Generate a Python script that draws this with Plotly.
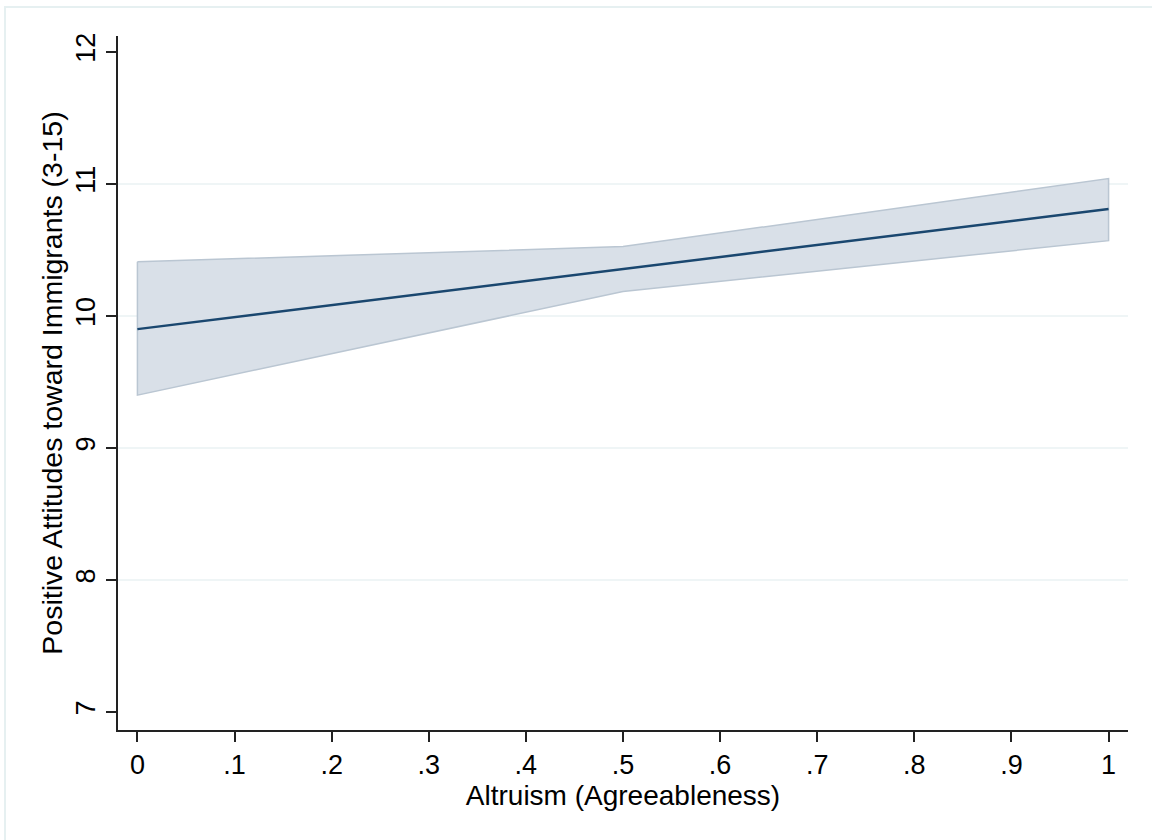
import plotly.graph_objects as go

# Data
altruism = [0.0, 0.5, 1.0]
predicted = [9.90, 10.355, 10.81]
ci_upper = [10.41, 10.525, 11.04]
ci_lower = [9.40, 10.185, 10.57]

x_tickvals = [0, 0.1, 0.2, 0.3, 0.4, 0.5, 0.6, 0.7, 0.8, 0.9, 1.0]
x_ticktext = ["0", ".1", ".2", ".3", ".4", ".5", ".6", ".7", ".8", ".9", "1"]
y_tickvals = [7, 8, 9, 10, 11, 12]
grid_vals = [8, 9, 10, 11]

FONT = "Liberation Sans, Arial, Helvetica, sans-serif"

fig = go.Figure()

# CI band as a closed polygon
poly_x = altruism + altruism[::-1] + [altruism[0]]
poly_y = ci_upper + ci_lower[::-1] + [ci_upper[0]]
fig.add_trace(go.Scatter(
    x=poly_x, y=poly_y, mode="lines", fill="toself",
    fillcolor="#d9e0e8", line=dict(color="#bac6d2", width=1.5),
    hoverinfo="skip", showlegend=False,
))

fig.add_trace(go.Scatter(
    x=altruism, y=predicted, mode="lines",
    line=dict(color="#1a476f", width=2.5), showlegend=False,
))

shapes = []
for g in grid_vals:
    shapes.append(dict(type="line", xref="paper", yref="y", x0=0, x1=1, y0=g, y1=g,
                       line=dict(color="#eaf2f3", width=1.5), layer="below"))
# outer graph-region frame (partially visible)
shapes.append(dict(type="rect", xref="paper", yref="paper",
                   x0=-0.1119, x1=1.2, y0=-0.3, y1=1.0418,
                   line=dict(color="#e6f0f1", width=2), layer="below"))

fig.update_layout(
    width=1152, height=840,
    margin=dict(l=118, r=24, t=36, b=110),
    paper_bgcolor="white", plot_bgcolor="white",
    font=dict(family=FONT, color="black", size=28),
    shapes=shapes,
    xaxis=dict(
        range=[-0.02, 1.02], tickvals=x_tickvals, ticktext=x_ticktext,
        automargin=False,
        showgrid=False, zeroline=False, showline=True, linecolor="#222", linewidth=1.5,
        ticks="outside", ticklen=10, tickwidth=1.5, tickcolor="#222",
        ticklabelstandoff=0,
        tickfont=dict(size=27, family=FONT),
        title=dict(text="Altruism (Agreeableness)", font=dict(size=28, family=FONT), standoff=0),
    ),
    yaxis=dict(
        range=[6.864, 12.12], tickvals=y_tickvals,
        automargin=False,
        showgrid=False, zeroline=False, showline=True, linecolor="#222", linewidth=1.5,
        ticks="outside", ticklen=10, tickwidth=1.5, tickcolor="#222",
        tickangle=-90, tickfont=dict(size=27, family=FONT),
        title=dict(text="Positive Attitudes toward Immigrants (3-15)", font=dict(size=28.5, family=FONT), standoff=0),
    ),
)

fig.write_html("out.html", config={"displayModeBar": False},
               post_script="document.body.style.margin='0';")
